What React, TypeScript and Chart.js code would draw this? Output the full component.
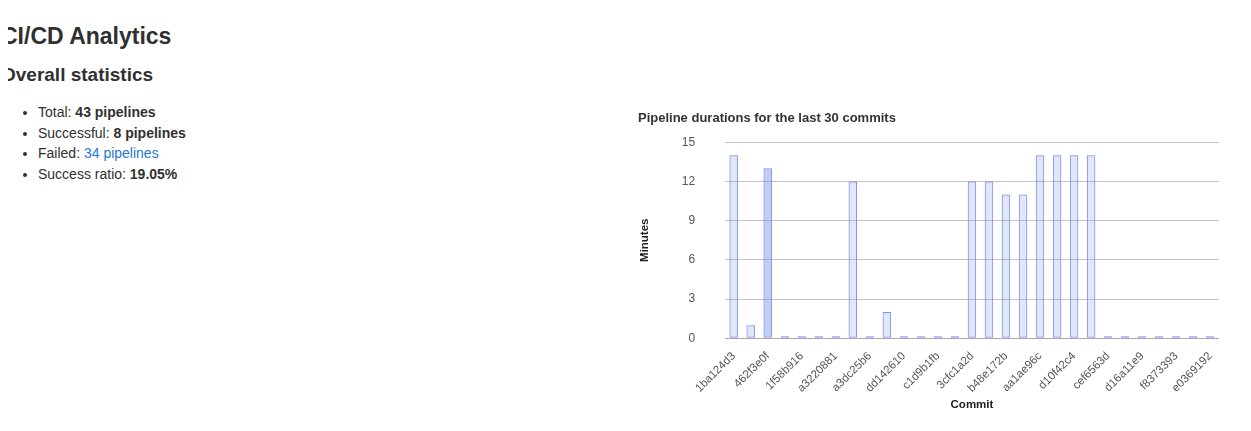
import { useEffect, useRef } from "react";
import { Chart } from "chart.js/auto";

const commits = [
  "1ba124d3", "5e7a09c2", "462f3e0f", "9b3d41aa", "1f58b916", "c72e0d54", "a3220881", "07bd6f3e",
  "a3dc25b6", "f41c8a20", "dd142610", "6ab90e77", "c1d9b1fb", "2e8f53cd", "3cfc1a2d", "8d04b6e1",
  "b48e172b", "4f6c2a98", "aa1ae96c", "e93b7d05", "d10f42c4", "71ac3e6b", "cef6563d", "0b5d9f12",
  "d16a11e9", "92e4c7a0", "f8373393", "3a7f1e58", "e0369192",
];
const minutes = [14, 1, 13, 0, 0, 0, 0, 12, 0, 2, 0, 0, 0, 0, 12, 12, 11, 11, 14, 14, 14, 14, 0, 0, 0, 0, 0, 0, 0];
const yTicks = [0, 3, 6, 9, 12, 15];

export default function App() {
  const ref = useRef<HTMLCanvasElement>(null);

  useEffect(() => {
    if (!ref.current) return;
    const chart = new Chart(ref.current, {
      type: "bar",
      data: {
        labels: commits,
        datasets: [
          {
            label: "Minutes",
            data: minutes,
            backgroundColor: minutes.map((_, i) => (i === 2 ? "rgba(120,145,235,0.45)" : "rgba(120,145,235,0.22)")),
            borderColor: "rgba(100,125,230,0.85)",
            borderWidth: 1,
            borderSkipped: false,
            barPercentage: 0.5,
            categoryPercentage: 1,
            minBarLength: 2,
          },
        ],
      },
      options: {
        animation: false,
        responsive: true,
        maintainAspectRatio: false,
        plugins: {
          legend: { display: false },
          tooltip: { enabled: false },
          title: {
            display: true,
            text: "Pipeline durations for the last 30 commits",
            align: "start",
            color: "#333",
            font: { family: "Arial, 'Liberation Sans'", size: 13, weight: "bold" },
            padding: { top: 0, bottom: 16 },
          },
        },
        scales: {
          x: {
            grid: { display: false },
            border: { color: "#aaa" },
            ticks: {
              color: "#555",
              maxRotation: 45,
              minRotation: 45,
              autoSkip: true,
              font: { family: "Arial, 'Liberation Sans'", size: 11.5 },
            },
            title: {
              display: true,
              text: "Commit",
              color: "#222",
              font: { family: "Arial, 'Liberation Sans'", size: 11.5, weight: "bold" },
              padding: 0,
            },
          },
          y: {
            min: 0,
            max: 15,
            afterBuildTicks: (axis) => {
              axis.ticks = yTicks.map((v) => ({ value: v }));
            },
            grid: { color: "#c4c4c4", drawTicks: false },
            border: { display: false },
            ticks: { color: "#555", padding: 30, font: { family: "Arial, 'Liberation Sans'", size: 12 } },
            title: {
              display: true,
              text: "Minutes",
              color: "#222",
              font: { family: "Arial, 'Liberation Sans'", size: 11.5, weight: "bold" },
              padding: 0,
            },
          },
        },
      },
    });
    return () => chart.destroy();
  }, []);

  const font = "-apple-system, 'Liberation Sans', Arial, sans-serif";
  return (
    <div style={{ fontFamily: font, color: "#303030", margin: "-8px", borderTop: "1px solid #e3e3e3", height: 430, position: "relative" }}>
      <h1 style={{ fontSize: 23, fontWeight: 600, margin: 0, position: "absolute", top: 22, left: 1 }}>CI/CD Analytics</h1>
      <h3 style={{ fontSize: 19, fontWeight: 600, margin: 0, position: "absolute", top: 63, left: 1 }}>Overall statistics</h3>
      <ul style={{ position: "absolute", top: 101, left: 0, margin: 0, paddingLeft: 38, fontSize: 14, lineHeight: "20.5px" }}>
        <li>Total: <b>43 pipelines</b></li>
        <li>Successful: <b>8 pipelines</b></li>
        <li>Failed: <span style={{ color: "#1f78d1" }}>34 pipelines</span></li>
        <li>Success ratio: <b>19.05%</b></li>
      </ul>
      <div style={{ position: "absolute", left: 638, top: 104, width: 585, height: 307 }}>
        <canvas ref={ref} />
      </div>
    </div>
  );
}
